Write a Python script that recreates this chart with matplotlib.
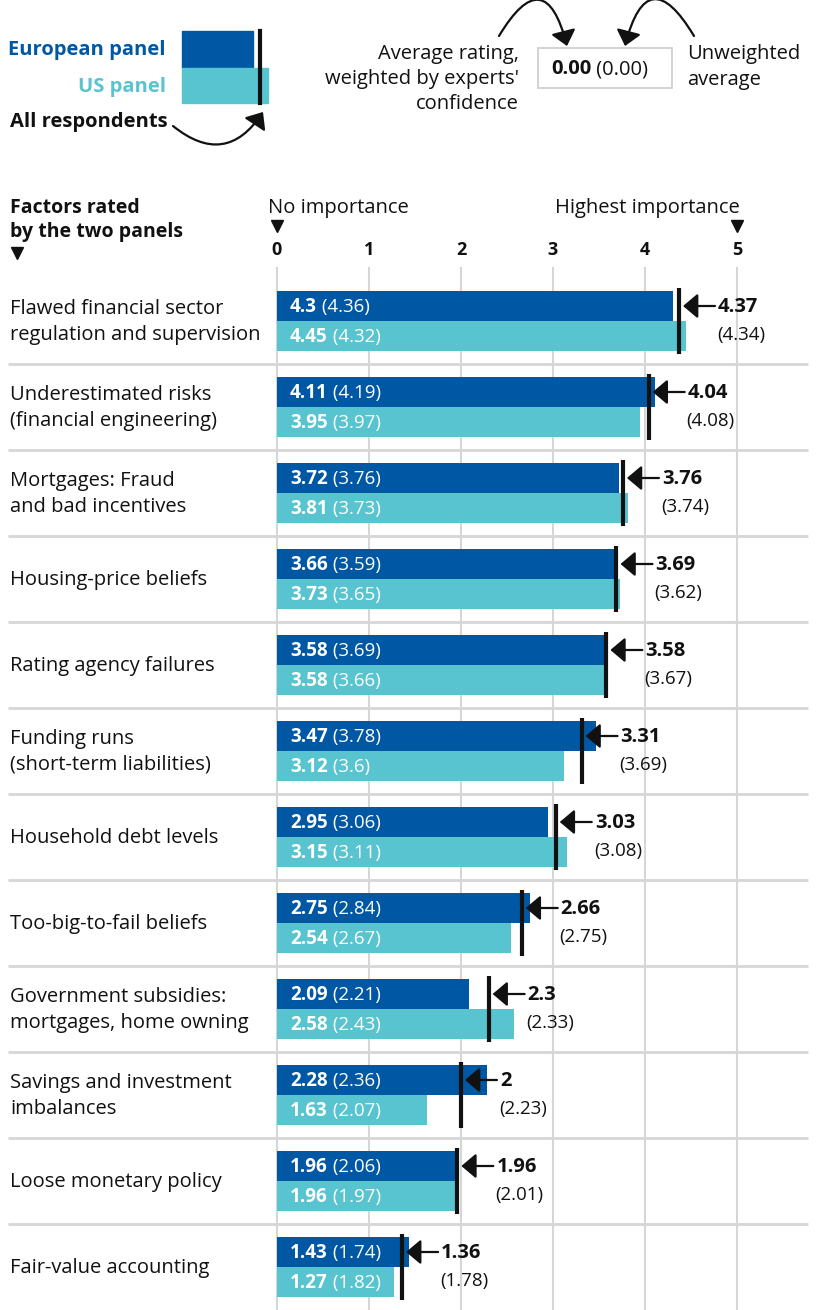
import numpy as np
import matplotlib.pyplot as plt

factors = [
    "Flawed financial sector\nregulation and supervision",
    "Underestimated risks\n(financial engineering)",
    "Mortgages: Fraud\nand bad incentives",
    "Housing-price beliefs",
    "Rating agency failures",
    "Funding runs\n(short-term liabilities)",
    "Household debt levels",
    "Too-big-to-fail beliefs",
    "Government subsidies:\nmortgages, home owning",
    "Savings and investment\nimbalances",
    "Loose monetary policy",
    "Fair-value accounting",
]
euro_w = [4.3, 4.11, 3.72, 3.66, 3.58, 3.47, 2.95, 2.75, 2.09, 2.28, 1.96, 1.43]
euro_u = [4.36, 4.19, 3.76, 3.59, 3.69, 3.78, 3.06, 2.84, 2.21, 2.36, 2.06, 1.74]
us_w = [4.45, 3.95, 3.81, 3.73, 3.58, 3.12, 3.15, 2.54, 2.58, 1.63, 1.96, 1.27]
us_u = [4.32, 3.97, 3.73, 3.65, 3.66, 3.6, 3.11, 2.67, 2.43, 2.07, 1.97, 1.82]
all_w = [4.37, 4.04, 3.76, 3.69, 3.58, 3.31, 3.03, 2.66, 2.3, 2, 1.96, 1.36]
all_u = [4.34, 4.08, 3.74, 3.62, 3.67, 3.69, 3.08, 2.75, 2.33, 2.23, 2.01, 1.78]
ticks = [0, 1, 2, 3, 4, 5]

EURO = "#0057a4"
US = "#58c4d0"
GRID = "#d6d6d6"
INK = "#111111"
FS = 14.5

plt.rcParams['font.family'] = ['Open Sans', 'DejaVu Sans']

W, H = 820, 1310
X0, XU = 277, 92      # pixel of value 0, pixels per unit
Y0, YU = 321, 86      # pixel of first row centre, pixels per row

fig = plt.figure(figsize=(W / 100, H / 100), dpi=100)
ax = fig.add_axes([0, 0, 1, 1])
ax.set_xlim(-X0 / XU, (W - X0) / XU)
ax.set_ylim((H - Y0) / YU, -Y0 / YU)
ax.axis('off')

def px(p):
    return p / XU

def py(p):
    return p / YU

rows = np.arange(len(factors))
off = py(15)
bh = py(30)
head = dict(arrowstyle='-|>,head_length=0.45,head_width=0.38', mutation_scale=20,
            color=INK, lw=1.6, shrinkA=0, shrinkB=0)

# grid
ax.vlines(ticks, py(267 - Y0), py(H - Y0) + 1, color=GRID, lw=1.5, zorder=0)
ax.hlines(rows[:-1] + 0.5, px(8 - X0), px(808 - X0), color=GRID, lw=2, zorder=0)

ax.barh(rows - off, euro_w, height=bh, color=EURO, zorder=2)
ax.barh(rows + off, us_w, height=bh, color=US, zorder=2)
ax.vlines(all_w, rows - py(33), rows + py(33), color=INK, lw=3, zorder=3)

def fmt(v):
    return f"{v:g}"

for i in rows:
    ax.text(px(10 - X0), i + py(1), factors[i], ha='left', va='center',
            fontsize=FS, color=INK, linespacing=1.36)
    for y, w, u in ((i - off, euro_w[i], euro_u[i]), (i + off, us_w[i], us_u[i])):
        t = ax.text(px(13), y + py(1), fmt(w), color='white', fontsize=13.5,
                    fontweight='bold', ha='left', va='center', zorder=4)
        ax.annotate(f" ({fmt(u)})", xy=(1, 0.5), xycoords=t, va='center', ha='left',
                    color='white', fontsize=13.5, zorder=4)
    a = all_w[i]
    ax.annotate('', xy=(a + px(4), i - off), xytext=(a + px(36), i - off),
                arrowprops=head, zorder=4)
    ax.text(a + px(39), i - off + py(1), fmt(a), fontsize=FS, fontweight='bold',
            color=INK, ha='left', va='center')
    ax.text(a + px(38), i + py(14), f"({fmt(all_u[i])})", fontsize=13.5, color=INK,
            ha='left', va='center')

# axis header
for k in ticks:
    ax.text(k, py(250 - Y0), str(k), ha='center', va='center', fontsize=13,
            fontweight='bold', color=INK)
ax.text(px(268 - X0), py(208 - Y0), "No importance", ha='left', va='center',
        fontsize=FS, color=INK)
ax.text(px(740 - X0), py(208 - Y0), "Highest importance", ha='right', va='center',
        fontsize=FS, color=INK)
ax.plot([0, 5], [py(226 - Y0)] * 2, 'v', color=INK, ms=8, ls='none')
ax.plot([px(17 - X0)], [py(253 - Y0)], 'v', color=INK, ms=8)
ax.text(px(10 - X0), py(220 - Y0), "Factors rated\nby the two panels", ha='left',
        va='center', fontsize=14, fontweight='bold', color=INK, linespacing=1.25)

# legend / key in pixel coordinates
hd = fig.add_axes([0, 0, 1, 1])
hd.set_xlim(0, W)
hd.set_ylim(H, 0)
hd.axis('off')
hd.patch.set_alpha(0)

hd.add_patch(plt.Rectangle((182, 31), 71, 37, color=EURO))
hd.add_patch(plt.Rectangle((182, 68), 86, 35, color=US))
hd.plot([260, 260], [31, 103], color=INK, lw=3)
hd.text(166, 50, "European panel", ha='right', va='center', fontsize=FS,
        fontweight='bold', color=EURO)
hd.text(166, 87, "US panel", ha='right', va='center', fontsize=FS,
        fontweight='bold', color=US)
hd.text(10, 122, "All respondents", ha='left', va='center', fontsize=FS,
        fontweight='bold', color=INK)
hd.annotate('', xy=(263, 112), xytext=(173, 126),
            arrowprops=dict(head, connectionstyle='arc3,rad=0.55'))

hd.add_patch(plt.Rectangle((538, 48), 134, 40, facecolor='white', edgecolor='#cccccc', lw=1.2))
t0 = hd.text(551, 69, "0.00", ha='left', va='center', fontsize=FS, fontweight='bold',
             color=INK)
hd.annotate(" (0.00)", xy=(1, 0.5), xycoords=t0, ha='left', va='center', fontsize=FS,
            color=INK)
hd.text(519, 79, "Average rating,\nweighted by experts'\nconfidence", ha='right',
        va='center', fontsize=FS, color=INK, linespacing=1.36)
hd.text(687, 67, "Unweighted\naverage", ha='left', va='center', fontsize=FS,
        color=INK, linespacing=1.36)
hd.annotate('', xy=(567, 46), xytext=(499, 36),
            arrowprops=dict(head, connectionstyle='arc3,rad=-1.2'))
hd.annotate('', xy=(625, 46), xytext=(694, 36),
            arrowprops=dict(head, connectionstyle='arc3,rad=1.2'))

fig.savefig("out.png", dpi=100, facecolor='white')
